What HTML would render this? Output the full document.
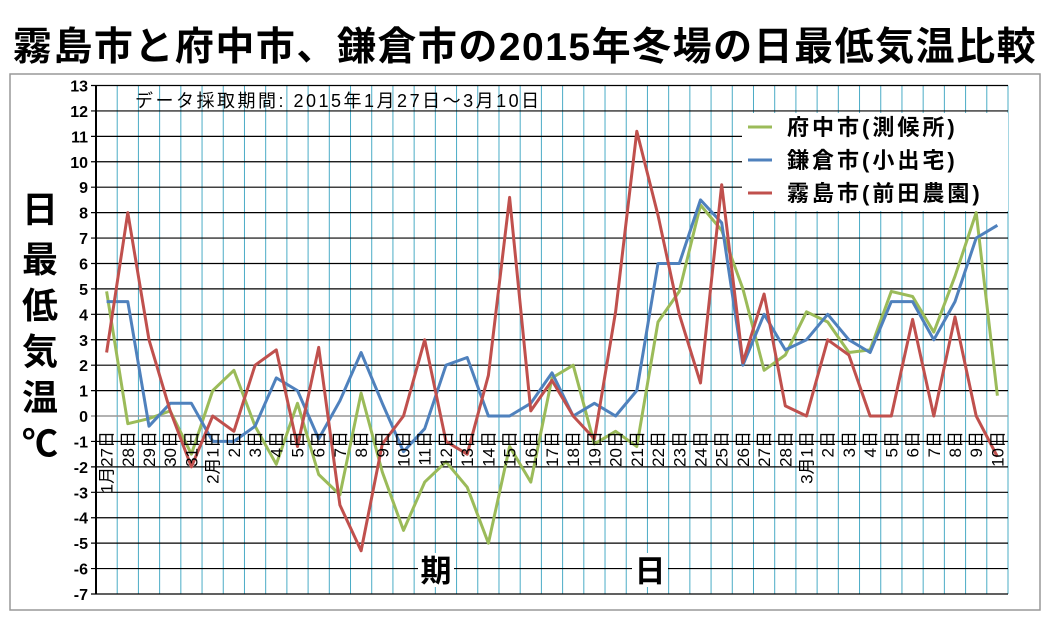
<!DOCTYPE html>
<html><head><meta charset="utf-8"><style>
body{margin:0;background:#fff;}
svg{display:block;font-family:"Liberation Sans","Noto Sans CJK JP",sans-serif;}
</style></head><body>
<svg width="1050" height="621" viewBox="0 0 1050 621">
<text x="525" y="60" text-anchor="middle" font-size="39" font-weight="bold" letter-spacing="1.5">霧島市と府中市、鎌倉市の2015年冬場の日最低気温比較</text>
<rect x="10" y="74" width="1030" height="536" fill="none" stroke="#999" stroke-width="1.5"/>
<g id="grid"></g>
<g id="lines"></g>
<g id="labels"></g>
<text x="135" y="107" font-size="18" letter-spacing="2.5">データ採取期間: 2015年1月27日～3月10日</text>
<g font-size="36" font-weight="bold" text-anchor="middle">
<text x="40" y="222">日</text><text x="40" y="272">最</text><text x="40" y="318">低</text><text x="40" y="364">気</text><text x="40" y="410">温</text><text x="40" y="456">℃</text>
</g>
<rect x="418" y="553" width="36" height="34" fill="#fff"/>
<text x="436" y="582" font-size="31" font-weight="bold" text-anchor="middle">期</text>
<rect x="632" y="553" width="36" height="34" fill="#fff"/>
<text x="650" y="582" font-size="31" font-weight="bold" text-anchor="middle">日</text>
<g>
<rect x="742" y="113" width="266" height="98" fill="#fff"/>
<line x1="748" y1="127" x2="772" y2="127" stroke="#9bbb59" stroke-width="3"/>
<text x="787" y="135" font-size="22" font-weight="bold" letter-spacing="3">府中市(測候所)</text>
<line x1="748" y1="160" x2="772" y2="160" stroke="#4f81bd" stroke-width="3"/>
<text x="787" y="168" font-size="22" font-weight="bold" letter-spacing="3">鎌倉市(小出宅)</text>
<line x1="748" y1="193" x2="772" y2="193" stroke="#c0504d" stroke-width="3"/>
<text x="787" y="201" font-size="22" font-weight="bold" letter-spacing="3">霧島市(前田農園)</text>
</g>
</svg>
<script>
const categories=["1月27日","28日","29日","30日","31日","2月1日","2日","3日","4日","5日","6日","7日","8日","9日","10日","11日","12日","13日","14日","15日","16日","17日","18日","19日","20日","21日","22日","23日","24日","25日","26日","27日","28日","3月1日","2日","3日","4日","5日","6日","7日","8日","9日","10日"];
const fuchu=[4.9,-0.3,-0.1,0.2,-1.5,1.0,1.8,-0.4,-1.9,0.5,-2.3,-3.1,0.9,-2.2,-4.5,-2.6,-1.8,-2.8,-5.0,-1.2,-2.6,1.5,2.0,-1.1,-0.6,-1.2,3.7,4.9,8.3,7.3,5.0,1.8,2.4,4.1,3.7,2.5,2.6,4.9,4.7,3.3,5.5,8.0,0.8];
const kamakura=[4.5,4.5,-0.4,0.5,0.5,-1.0,-1.0,-0.4,1.5,1.0,-0.9,0.6,2.5,0.5,-1.4,-0.5,2.0,2.3,0,0,0.5,1.7,0,0.5,0,1.0,6.0,6.0,8.5,7.6,2.0,4.0,2.6,3.0,4.0,3.0,2.5,4.5,4.5,3.0,4.5,7.0,7.5];
const kirishima=[2.5,8.0,3.0,0.2,-2.0,0,-0.6,2.0,2.6,-1.2,2.7,-3.5,-5.3,-1.1,0,3.0,-1.0,-1.5,1.6,8.6,0.2,1.4,0,-0.9,4.1,11.2,7.9,4.0,1.3,9.1,2.1,4.8,0.4,0,3.0,2.4,0,0,3.8,0,3.9,0,-1.6];
const yTicks=[13,12,11,10,9,8,7,6,5,4,3,2,1,0,-1,-2,-3,-4,-5,-6,-7];
const NS="http://www.w3.org/2000/svg";
const X0=96,X1=1008,YMAX=13,YMIN=-7,TOP=85.5,BOT=594;
const bw=(X1-X0)/categories.length;
function xPos(i){return X0+bw*(i+0.5);}
function yPos(v){return TOP+(YMAX-v)/(YMAX-YMIN)*(BOT-TOP);}
function mk(tag,attrs,parent){const e=document.createElementNS(NS,tag);for(const k in attrs)e.setAttribute(k,attrs[k]);parent.appendChild(e);return e;}
const grid=document.getElementById('grid'),lines=document.getElementById('lines'),labels=document.getElementById('labels');
for(let i=0;i<=categories.length;i++){
  const x=X0+bw*i;
  const l=mk('line',{x1:x,x2:x,y1:TOP,y2:BOT,stroke:'#4bacc6','stroke-width':1},grid);
  
  
}
yTicks.forEach(t=>{
  const y=yPos(t);
  const l=mk('line',{x1:X0-5,x2:X1,y1:y,y2:y,stroke:t===0?'#999':'#000','stroke-width':t===0?1.5:1.2},grid);
  
  
  const tx=mk('text',{x:X0-8,y:y+6,'text-anchor':'end','font-size':16,'font-weight':'bold'},labels);
  tx.textContent=t;
  
  
});
const ax=mk('line',{x1:X0,x2:X0,y1:TOP,y2:BOT,stroke:'#000','stroke-width':2},grid);


categories.forEach((c,i)=>{
  const x=xPos(i)+6,y=431;
  const t=mk('text',{x:x,y:y,'text-anchor':'end','font-size':17,transform:`rotate(-90 ${x} ${y})`},labels);
  t.textContent=c;
  
  
});
function series(data,color,name){
  const pts=data.map((v,i)=>xPos(i).toFixed(1)+','+yPos(v).toFixed(1)).join(' ');
  const p=mk('polyline',{points:pts,fill:'none',stroke:color,'stroke-width':3,'stroke-linejoin':'round'},lines);
  
  
}
series(fuchu,'#9bbb59','fuchu-line');
series(kamakura,'#4f81bd','kamakura-line');
series(kirishima,'#c0504d','kirishima-line');
</script>
</body></html>
